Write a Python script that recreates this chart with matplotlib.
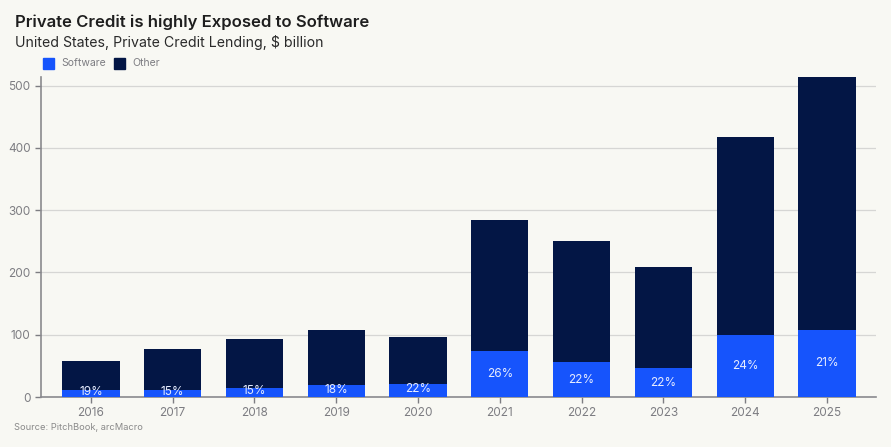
import matplotlib
matplotlib.use("Agg")
import matplotlib.pyplot as plt
from matplotlib.patches import Rectangle

years = ["2016", "2017", "2018", "2019", "2020", "2021", "2022", "2023", "2024", "2025"]
total = [58, 77, 93, 108, 97, 285, 251, 209, 417, 514]
software = [11, 11.5, 14, 19.5, 21, 74, 55.5, 46, 100, 108]
other = [t - s for t, s in zip(total, software)]
share_pct = [round(s / t * 100) for s, t in zip(software, total)]

BG = "#f8f8f3"
SW_COL = "#1654fc"
OT_COL = "#031645"
GREY = "#7d7d82"

plt.rcParams["font.family"] = ["Inter", "DejaVu Sans"]

fig = plt.figure(figsize=(8.91, 4.47), dpi=100, facecolor=BG)
ax = fig.add_axes([41 / 891, 50 / 447, (876 - 41) / 891, (397 - 77) / 447])
ax.set_facecolor(BG)

x = list(range(len(years)))
w = 0.70
ax.bar(x, software, width=w, color=SW_COL, zorder=3)
ax.bar(x, other, width=w, bottom=software, color=OT_COL, zorder=3)

for xi, s, p in zip(x, software, share_pct):
    ax.text(xi, s / 2 + (2 if s < 30 else 0), f"{p}%", ha="center", va="center",
            color="#e6ecff", fontsize=8.5, zorder=4)

ax.set_xlim(-0.61, 9.6)
ax.set_ylim(0, 514)
ax.set_yticks([0, 100, 200, 300, 400, 500])
ax.set_xticks(x)
ax.set_xticklabels(years)
ax.tick_params(axis="both", colors=GREY, labelcolor=GREY, labelsize=8.5, length=4, width=1)
ax.yaxis.grid(True, color="#d6d6d4", linewidth=0.9, zorder=0)
ax.set_axisbelow(True)
for side in ["top", "right"]:
    ax.spines[side].set_visible(False)
for side in ["left", "bottom"]:
    ax.spines[side].set_color("#8a8a8e")
    ax.spines[side].set_linewidth(1.2)

fig.text(15 / 891, 1 - 22 / 447, "Private Credit is highly Exposed to Software",
         fontsize=12, fontweight="semibold", color="#1e1e1e", va="center", ha="left")
fig.text(15 / 891, 1 - 42 / 447, "United States, Private Credit Lending, $ billion",
         fontsize=10.2, color="#2a2a2a", va="center", ha="left")

# legend
for lx, label, col in [(43, "Software", SW_COL), (114, "Other", OT_COL)]:
    fig.patches.append(Rectangle((lx / 891, 1 - 69 / 447), 11 / 891, 11 / 447,
                                 transform=fig.transFigure, color=col))
    fig.text((lx + 18) / 891, 1 - 63 / 447, label, fontsize=7.5, color=GREY,
             va="center", ha="left")

fig.text(14 / 891, 1 - 427 / 447, "Source: PitchBook, arcMacro", fontsize=6.7,
         color="#8a8a8a", va="center", ha="left")

fig.savefig("out.png", dpi=100, facecolor=BG)
